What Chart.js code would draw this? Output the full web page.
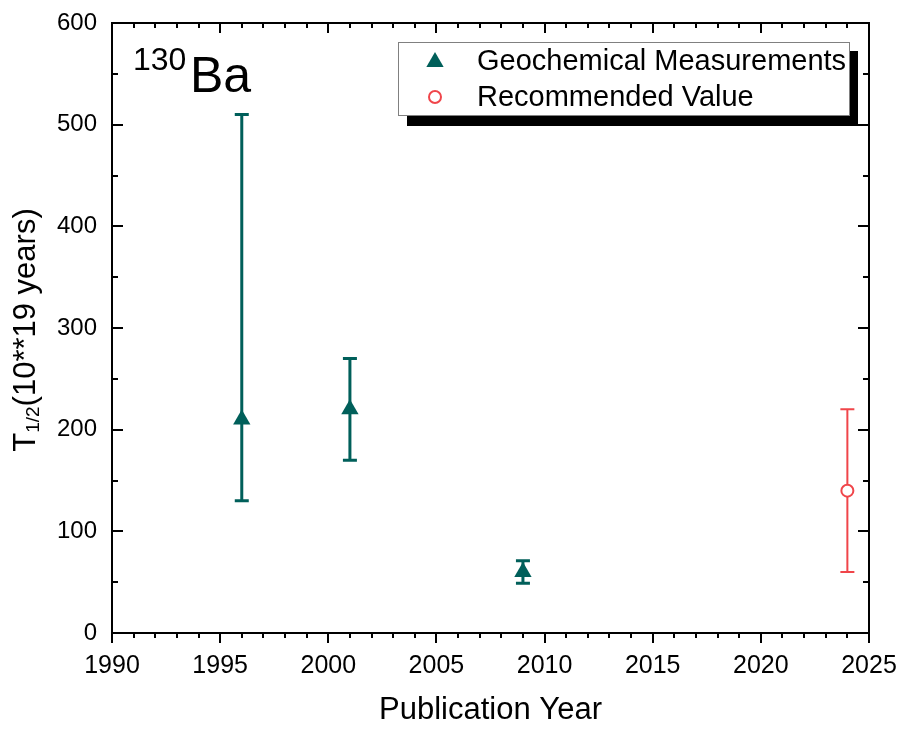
<!DOCTYPE html>
<html>
<head>
<meta charset="utf-8">
<script src="https://cdn.jsdelivr.net/npm/chart.js@4.4.1/dist/chart.umd.min.js"></script>
<style>
  html, body { margin: 0; padding: 0; background: #fff; }
  #wrap { width: 902px; height: 729px; }
</style>
</head>
<body>
<div id="wrap"><canvas id="chart" width="902" height="729"></canvas></div>
<script>
// data
const geoYears = [1996, 2001, 2009]
const geoValues = [210, 220, 60]
const geoLow = [130, 170, 49]
const geoHigh = [510, 270, 71]

const recYears = [2024]
const recValues = [140]
const recLow = [60]
const recHigh = [220]

const xTicks = [1990, 1995, 2000, 2005, 2010, 2015, 2020, 2025]
const yTicks = [0, 100, 200, 300, 400, 500, 600]

const TEAL = '#005f5a'
const RED = '#f0454a'
const FONT = '"Liberation Sans", Arial, sans-serif'

const toPoints = (xs, ys, lo, hi) => xs.map((x, i) => ({ x: x, y: ys[i], yMin: lo[i], yMax: hi[i] }))

// error bars are drawn under the markers
const errorBars = {
  id: 'errorBars',
  beforeDatasetsDraw(chart) {
    const { ctx, scales: { x, y } } = chart
    chart.data.datasets.forEach(ds => {
      ctx.save()
      ctx.strokeStyle = ds.errColor
      ctx.lineWidth = ds.errWidth
      ds.data.forEach(p => {
        const px = x.getPixelForValue(p.x)
        const top = y.getPixelForValue(p.yMax)
        const bot = y.getPixelForValue(p.yMin)
        ctx.beginPath()
        ctx.moveTo(px, top); ctx.lineTo(px, bot)
        ctx.moveTo(px - 7, top); ctx.lineTo(px + 7, top)
        ctx.moveTo(px - 7, bot); ctx.lineTo(px + 7, bot)
        ctx.stroke()
      })
      ctx.restore()
    })
  }
}

function triangle(ctx, cx, cy, r) {
  ctx.beginPath()
  for (let i = 0; i < 3; i++) {
    const a = i * 2 * Math.PI / 3
    const px = cx + Math.sin(a) * r
    const py = cy - Math.cos(a) * r
    if (i === 0) ctx.moveTo(px, py); else ctx.lineTo(px, py)
  }
  ctx.closePath()
  ctx.fill()
}

// frame, ticks, titles, legend and the nuclide label
const decorations = {
  id: 'decorations',
  afterDraw(chart) {
    const { ctx, chartArea: a, scales: { x, y } } = chart
    ctx.save()
    ctx.strokeStyle = '#000'
    ctx.lineWidth = 2

    ctx.beginPath()
    for (let yr = 1990; yr <= 2025; yr++) {
      const px = Math.round(x.getPixelForValue(yr))
      const len = yr % 5 === 0 ? 10 : 5
      ctx.moveTo(px, a.bottom); ctx.lineTo(px, a.bottom + len)  // bottom: outward
      ctx.moveTo(px, a.top); ctx.lineTo(px, a.top + len)        // top: inward
    }
    for (let v = 0; v <= 600; v += 50) {
      const py = Math.round(y.getPixelForValue(v))
      const len = v % 100 === 0 ? 11 : 6
      ctx.moveTo(a.left, py); ctx.lineTo(a.left + len, py)
      ctx.moveTo(a.right, py); ctx.lineTo(a.right - len, py)
    }
    ctx.stroke()
    ctx.strokeRect(a.left, a.top, a.right - a.left, a.bottom - a.top)

    ctx.fillStyle = '#000'
    // x title
    ctx.font = '31px ' + FONT
    ctx.textAlign = 'center'
    ctx.textBaseline = 'alphabetic'
    ctx.fillText('Publication Year', (a.left + a.right) / 2, 719)

    // y title with subscript, rotated
    ctx.save()
    ctx.translate(35, 330)
    ctx.rotate(-Math.PI / 2)
    ctx.textAlign = 'left'
    ctx.font = '31px ' + FONT
    const wT = ctx.measureText('T').width
    const wRest = ctx.measureText('(10**19 years)').width
    ctx.font = '19px ' + FONT
    const wSub = ctx.measureText('1/2').width
    let cx = -(wT + wSub + wRest) / 2
    ctx.font = '31px ' + FONT
    ctx.fillText('T', cx, 0); cx += wT
    ctx.font = '19px ' + FONT
    ctx.fillText('1/2', cx, 4); cx += wSub
    ctx.font = '31px ' + FONT
    ctx.fillText('(10**19 years)', cx, 0)
    ctx.restore()

    // nuclide label
    ctx.textAlign = 'left'
    ctx.font = '32px ' + FONT
    ctx.fillText('130', 133, 70)
    ctx.font = '50px ' + FONT
    ctx.fillText('Ba', 190, 92)

    // legend with drop shadow
    ctx.fillStyle = '#000'
    ctx.fillRect(407, 51, 451, 75)
    ctx.fillStyle = '#fff'
    ctx.fillRect(398, 42, 452, 74)
    ctx.strokeStyle = '#808080'
    ctx.lineWidth = 1
    ctx.strokeRect(398.5, 42.5, 451, 73)

    ctx.fillStyle = TEAL
    triangle(ctx, 435, 62, 10)
    ctx.strokeStyle = RED
    ctx.lineWidth = 2
    ctx.fillStyle = '#fff'
    ctx.beginPath(); ctx.arc(435, 97, 6, 0, Math.PI * 2); ctx.fill(); ctx.stroke()

    ctx.fillStyle = '#000'
    ctx.font = '29px ' + FONT
    ctx.fillText('Geochemical Measurements', 477, 70)
    ctx.fillText('Recommended Value', 477, 106)
    ctx.restore()
  }
}

new Chart(document.getElementById('chart').getContext('2d'), {
  type: 'scatter',
  data: {
    datasets: [{
      label: 'Geochemical Measurements',
      data: toPoints(geoYears, geoValues, geoLow, geoHigh),
      pointStyle: 'triangle',
      pointRadius: 10,
      borderWidth: 0,
      backgroundColor: TEAL,
      borderColor: TEAL,
      errColor: TEAL,
      errWidth: 3
    }, {
      label: 'Recommended Value',
      data: toPoints(recYears, recValues, recLow, recHigh),
      pointStyle: 'circle',
      pointRadius: 6,
      borderWidth: 2,
      backgroundColor: '#fff',
      borderColor: RED,
      errColor: RED,
      errWidth: 2
    }]
  },
  options: {
    responsive: false,
    animation: false,
    devicePixelRatio: 1,
    layout: { padding: { left: 0, right: 33, top: 23, bottom: 0 } },
    plugins: { legend: { display: false }, tooltip: { enabled: false } },
    scales: {
      x: {
        type: 'linear', min: 1990, max: 2025,
        afterBuildTicks: s => { s.ticks = xTicks.map(v => ({ value: v })) },
        afterFit: s => { s.height = 96; s.paddingLeft = 0; s.paddingRight = 0 },
        grid: { display: false, drawTicks: false },
        border: { display: false },
        ticks: {
          color: '#000', font: { family: FONT, size: 25 }, padding: 18,
          maxRotation: 0, autoSkip: false, callback: v => String(v)
        }
      },
      y: {
        type: 'linear', min: 0, max: 600,
        afterBuildTicks: s => { s.ticks = yTicks.map(v => ({ value: v })) },
        afterFit: s => { s.width = 112; s.paddingTop = 0; s.paddingBottom = 0 },
        grid: { display: false, drawTicks: false },
        border: { display: false },
        ticks: { color: '#000', font: { family: FONT, size: 24 }, padding: 15 }
      }
    }
  },
  plugins: [errorBars, decorations]
})
</script>
</body>
</html>
